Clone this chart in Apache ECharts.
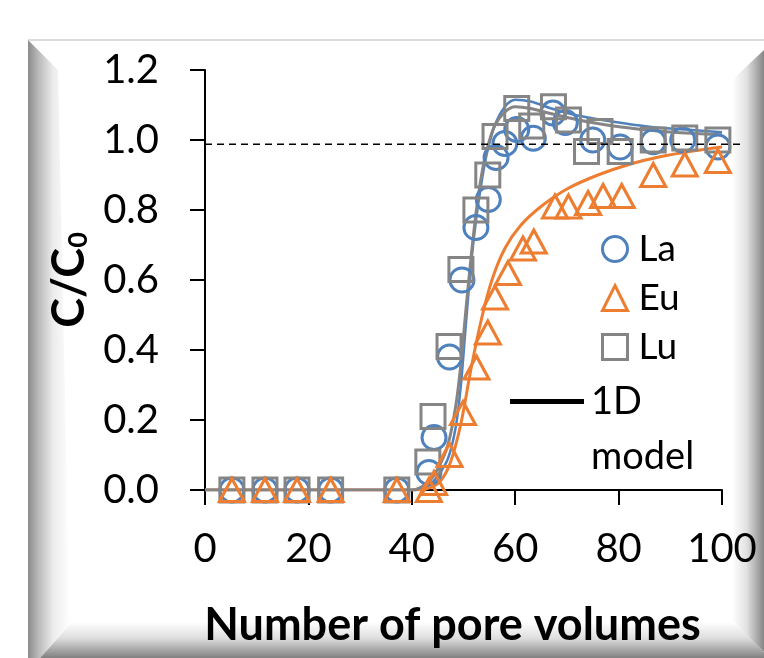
<!DOCTYPE html>
<html><head><meta charset="utf-8">
<script src="https://cdn.jsdelivr.net/npm/echarts@6/dist/echarts.min.js"></script>
<style>html,body{margin:0;padding:0;background:#fff}#c{width:764px;height:658px}</style>
</head><body><div id="c"></div>
<script>
// ---- data ----
const xTicks = [0, 20, 40, 60, 80, 100];
const yTicks = [0.0, 0.2, 0.4, 0.6, 0.8, 1.0, 1.2];

const laX = [5.2, 11.6, 17.8, 24.3, 37.1, 43.3, 44.3, 47.3, 49.7, 52.4, 54.8, 56.3, 58.0, 60.3, 63.5, 67.3, 69.7, 75.0, 80.3, 86.7, 92.4, 99.2];
const laY = [0, 0, 0, 0, 0, 0.05, 0.15, 0.38, 0.60, 0.75, 0.83, 0.95, 0.99, 1.03, 1.005, 1.077, 1.05, 1.0, 0.98, 0.995, 1.0, 0.98];

const euX = [5.2, 11.6, 17.8, 24.3, 37.1, 43.3, 44.3, 47.3, 49.9, 52.5, 54.7, 56.1, 58.6, 61.5, 63.6, 67.7, 70.3, 74.1, 77.0, 80.6, 86.7, 92.8, 99.2];
const euY = [0, 0, 0, 0, 0, 0.0, 0.02, 0.10, 0.22, 0.35, 0.45, 0.55, 0.62, 0.69, 0.71, 0.81, 0.81, 0.82, 0.84, 0.84, 0.90, 0.93, 0.94];

const luX = [5.2, 11.6, 17.8, 24.3, 37.1, 43.1, 44.1, 47.2, 49.5, 52.4, 54.7, 56.1, 60.3, 63.2, 67.4, 70.3, 73.8, 76.4, 80.3, 86.7, 92.8, 99.2];
const luY = [0, 0, 0, 0, 0, 0.08, 0.21, 0.41, 0.63, 0.80, 0.90, 1.01, 1.09, 1.04, 1.095, 1.057, 0.967, 1.024, 0.967, 1.0, 1.006, 1.0];

const laModelX = [0, 40, 43, 45, 47, 48.5, 49.5, 50.5, 51.5, 52.5, 53.5, 54.5, 56, 58, 60, 63, 67, 72, 79, 86, 93, 100];
const laModelY = [0, 0, 0.01, 0.04, 0.09, 0.18, 0.30, 0.48, 0.65, 0.78, 0.88, 0.96, 1.04, 1.095, 1.115, 1.11, 1.09, 1.07, 1.052, 1.038, 1.03, 1.022];

const luModelX = [0, 40, 43, 45, 47, 48.5, 49.5, 50.5, 51.5, 52.5, 53.5, 54.5, 56, 58, 60, 63, 67, 72, 79, 86, 93, 100];
const luModelY = [0, 0, 0.02, 0.06, 0.13, 0.24, 0.36, 0.52, 0.67, 0.80, 0.90, 0.97, 1.04, 1.08, 1.095, 1.09, 1.075, 1.058, 1.04, 1.028, 1.02, 1.015];

const euModelX = [0, 40, 43, 45.5, 47.5, 49.5, 51.5, 53.5, 55.5, 58, 61, 65, 70, 76, 82, 88, 94, 100];
const euModelY = [0, 0, 0.004, 0.025, 0.08, 0.19, 0.35, 0.49, 0.60, 0.69, 0.755, 0.81, 0.86, 0.90, 0.93, 0.952, 0.968, 0.98];

const refLevel = 0.988;        // dashed C/C0 reference line
const refSpan = [0, 1];

const seriesNames = ['La', 'Eu', 'Lu'];
const modelName = '1D model';
const xTitle = 'Number of pore volumes';

// ---- styles ----
const BLUE = '#4f81bd', ORANGE = '#ed7d31', GREY = '#858585';
const FONT = 'Lato';
const zip = (a, b) => a.map((v, i) => [v, b[i]]);

const chart = echarts.init(document.getElementById('c'), null, {renderer: 'canvas'});

const G = {left: 205, top: 70, width: 517, height: 420};

function markerSeries(name, xs, ys, symbol, size, color) {
  return {
    name, type: 'scatter', xAxisIndex: 0, yAxisIndex: 0,
    data: zip(xs, ys), symbol, symbolSize: size,
    itemStyle: {color: 'rgba(255,255,255,0)', borderColor: color, borderWidth: 3, opacity: 1},
    z: 4, emphasis: {disabled: true}
  };
}
function modelSeries(xs, ys, color, w) {
  return {
    name: modelName, type: 'line', xAxisIndex: 0, yAxisIndex: 0,
    data: zip(xs, ys), showSymbol: false, smooth: 0.3,
    lineStyle: {color, width: w}, itemStyle: {color}, z: 3, emphasis: {disabled: true}
  };
}

const option = {
  animation: false,
  backgroundColor: '#fff',
  textStyle: {fontFamily: FONT},
  graphic: [
    {type: 'rect', z: -10, shape: {x: 28, y: 39, width: 740, height: 2}, style: {fill: '#dcdcdc'}},
    {type: 'polygon', z: -10, shape: {points: [[28, 40], [58, 70], [70, 624], [40, 658], [28, 658]]},
      style: {fill: new echarts.graphic.LinearGradient(0, 0, 1, 0, [
        {offset: 0, color: '#8c8c8c'}, {offset: 0.25, color: '#b9b9b9'}, {offset: 0.6, color: '#ececec'}, {offset: 1, color: '#ffffff'}], false)}},
    {type: 'polygon', z: -10, shape: {points: [[764, 50], [732, 80], [732, 622], [764, 652]]},
      style: {fill: new echarts.graphic.LinearGradient(0, 0, 1, 0, [
        {offset: 0, color: '#ffffff'}, {offset: 0.45, color: '#e2e2e2'}, {offset: 1, color: '#868686'}], false)}},
    {type: 'polygon', z: -10, shape: {points: [[40, 658], [72, 622], [734, 622], [764, 652], [764, 658]]},
      style: {fill: new echarts.graphic.LinearGradient(0, 0, 0, 1, [
        {offset: 0, color: '#ffffff'}, {offset: 0.45, color: '#dedede'}, {offset: 1, color: '#808080'}], false)}}
  ],
  grid: [
    {left: G.left, top: G.top, width: G.width, height: G.height, containLabel: false},
    {left: G.left, top: G.top, width: 540, height: G.height, containLabel: false}
  ],
  xAxis: [
    {
      type: 'value', gridIndex: 0, min: xTicks[0], max: xTicks[xTicks.length - 1], interval: 20,
      name: xTitle, nameLocation: 'middle', nameGap: 113,
      nameTextStyle: {fontSize: 45, fontWeight: 'bold', color: '#000', fontFamily: FONT, padding: [0, 22, 0, 0]},
      axisLine: {show: true, onZero: false, lineStyle: {color: '#000', width: 2}},
      axisTick: {show: true, inside: false, length: 15, lineStyle: {color: '#000', width: 2}},
      axisLabel: {fontSize: 40, color: '#000', margin: 39, fontFamily: FONT},
      splitLine: {show: false}
    },
    {type: 'value', gridIndex: 1, min: refSpan[0], max: refSpan[1], show: false}
  ],
  yAxis: [
    {
      type: 'value', gridIndex: 0, min: yTicks[0], max: yTicks[yTicks.length - 1], interval: 0.2,
      name: '{b|C/C}{s|0}', nameLocation: 'middle', nameGap: 112, nameRotate: 90,
      nameTextStyle: {
        color: '#000', fontFamily: FONT,
        rich: {
          b: {fontSize: 45, fontWeight: 'bold', color: '#000', fontFamily: FONT},
          s: {fontSize: 27, fontWeight: 'bold', color: '#000', fontFamily: FONT, verticalAlign: 'bottom', padding: [14, 0, 0, 0]}
        }
      },
      axisLine: {show: true, onZero: false, lineStyle: {color: '#000', width: 2}},
      axisTick: {show: true, inside: false, length: 15, lineStyle: {color: '#000', width: 2}},
      axisLabel: {fontSize: 40, color: '#000', margin: 46, fontFamily: FONT, formatter: v => v.toFixed(1)},
      splitLine: {show: false}
    },
    {type: 'value', gridIndex: 1, min: yTicks[0], max: yTicks[yTicks.length - 1], show: false}
  ],
  legend: [
    {
      orient: 'vertical', left: 596, top: 223, itemWidth: 25, itemHeight: 25, itemGap: 7,
      selectedMode: false,
      textStyle: {fontSize: 37, color: '#000', fontFamily: FONT, lineHeight: 42, padding: [0, 0, 0, 6]},
      data: [
        {name: seriesNames[0], icon: 'circle', itemStyle: {color: 'rgba(255,255,255,0)', borderColor: BLUE, borderWidth: 3}},
        {name: seriesNames[1], icon: 'triangle', itemStyle: {color: 'rgba(255,255,255,0)', borderColor: ORANGE, borderWidth: 3}},
        {name: seriesNames[2], icon: 'rect', itemStyle: {color: 'rgba(255,255,255,0)', borderColor: GREY, borderWidth: 3}}
      ]
    },
    {
      orient: 'vertical', left: 505, top: 314, itemWidth: 74, itemHeight: 5,
      selectedMode: false,
      formatter: () => '\n1D\nmodel',
      textStyle: {fontSize: 38, color: '#000', fontFamily: FONT, lineHeight: 55, padding: [0, 0, 0, 2]},
      data: [{name: modelName, icon: 'rect', itemStyle: {color: '#000', borderWidth: 0}}]
    }
  ],
  series: [
    modelSeries(laModelX, laModelY, BLUE, 2.5),
    modelSeries(euModelX, euModelY, ORANGE, 3),
    modelSeries(luModelX, luModelY, GREY, 3),
    markerSeries(seriesNames[0], laX, laY, 'circle', 24, BLUE),
    markerSeries(seriesNames[2], luX, luY, 'rect', 24, GREY),
    markerSeries(seriesNames[1], euX, euY, 'triangle', [25, 23], ORANGE),
    {
      name: 'ref', type: 'line', xAxisIndex: 1, yAxisIndex: 1,
      data: refSpan.map(x => [x, refLevel]), showSymbol: false, silent: true,
      lineStyle: {color: '#000', width: 1.5, type: [7, 5]}, z: 5
    }
  ]
};
chart.setOption(option);
</script>
</body></html>
